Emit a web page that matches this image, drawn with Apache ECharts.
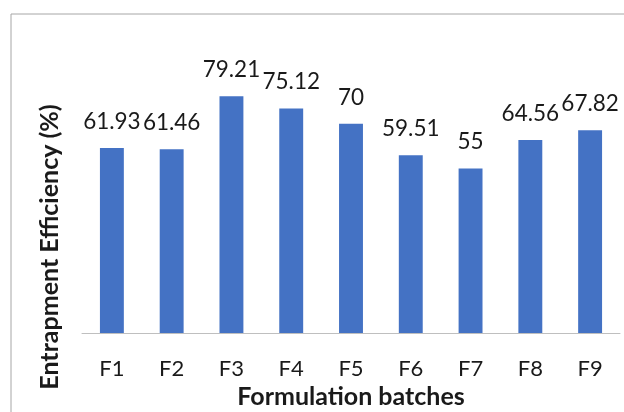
<!DOCTYPE html>
<html>
<head>
<meta charset="utf-8">
<script src="https://cdn.jsdelivr.net/npm/echarts@6/dist/echarts.min.js"></script>
<style>html,body{margin:0;padding:0;background:#fff;}#c{width:624px;height:412px;}</style>
</head>
<body>
<div id="c"></div>
<script>
const categories = ['F1','F2','F3','F4','F5','F6','F7','F8','F9'];
const values = [61.93, 61.46, 79.21, 75.12, 70, 59.51, 55, 64.56, 67.82];
const xTitle = 'Formulation batches';
const yTitle = 'Entrapment Efficiency (%)';

const FONT = 'Lato';
const chart = echarts.init(document.getElementById('c'), null, {renderer: 'canvas'});
chart.setOption({
  backgroundColor: '#fff',
  animation: false,
  grid: {left: 82, right: 4, top: 64, bottom: 79, containLabel: false, outerBoundsMode: 'none'},
  xAxis: {
    type: 'category',
    data: categories,
    axisLine: {show: true, lineStyle: {color: '#bfbfbf', width: 1}},
    axisTick: {show: false},
    axisLabel: {color: '#1a1a1a', fontFamily: FONT, fontSize: 22, margin: 25},
    name: xTitle,
    nameLocation: 'middle',
    nameGap: 41,
    nameTextStyle: {color: '#1a1a1a', fontFamily: FONT, fontSize: 25, fontWeight: 'bold'}
  },
  yAxis: {
    type: 'value',
    min: 0, max: 90,
    axisLine: {show: false}, axisTick: {show: false},
    axisLabel: {show: false}, splitLine: {show: false}
  },
  series: [{
    type: 'bar',
    data: values,
    barWidth: '40%',
    itemStyle: {color: '#4472C4'},
    label: {
      show: true, position: 'top', distance: 15,
      color: '#1a1a1a', fontFamily: FONT, fontSize: 22.5
    }
  }],
  graphic: [
    {type: 'rect', shape: {x: 11, y: 14, width: 800, height: 600},
     style: {fill: 'none', stroke: '#a6a6a6', lineWidth: 1}, silent: true, z: -1},
    {type: 'text', x: 50, y: 247, rotation: Math.PI / 2,
     style: {text: yTitle, fill: '#1a1a1a', font: 'bold 25px ' + FONT,
             textAlign: 'center', textVerticalAlign: 'middle'}}
  ]
});
</script>
</body>
</html>
